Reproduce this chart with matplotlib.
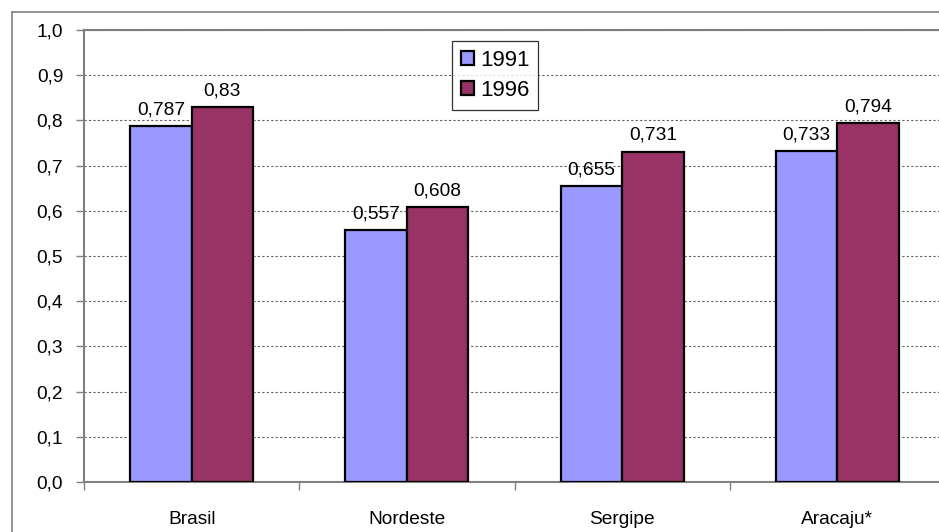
import matplotlib
matplotlib.use("Agg")
import matplotlib.pyplot as plt
from matplotlib.lines import Line2D
import numpy as np

plt.rcParams['font.family'] = ['Liberation Sans', 'DejaVu Sans']

categories = ["Brasil", "Nordeste", "Sergipe", "Aracaju*"]
series_names = ["1991", "1996"]
values_1991 = [0.787, 0.557, 0.655, 0.733]
values_1996 = [0.83, 0.608, 0.731, 0.794]
bar_colors = ["#9999FF", "#993366"]

W, H = 939, 532
fig = plt.figure(figsize=(W / 100, H / 100), dpi=100)

# plot area (extends slightly past the right edge of the canvas)
left_px, right_px, top_px, bottom_px = 84, 945, 30, 482
ax = fig.add_axes([left_px / W, 1 - bottom_px / H,
                   (right_px - left_px) / W, (bottom_px - top_px) / H])

x = np.arange(len(categories))
group = 1 / 1.75
bw = group / 2
FS = 13.8

def fmt(v):
    return ("%g" % v).replace(".", ",")

for i, (vals, name, col) in enumerate(zip([values_1991, values_1996], series_names, bar_colors)):
    pos = x - group / 2 + bw * (i + 0.5)
    bars = ax.bar(pos, vals, width=bw, color=col, edgecolor="black",
                  linewidth=1.6, label=name, zorder=3)
    for b, v in zip(bars, vals):
        ax.annotate(fmt(v), (b.get_x() + b.get_width() / 2, v),
                    xytext=(0, 5.5), textcoords="offset points",
                    ha="center", va="bottom", fontsize=FS, color="black", zorder=4)

ax.set_xlim(-0.5, len(categories) - 0.5)
ax.set_ylim(0, 1.0)

yt = np.round(np.arange(0, 1.01, 0.1), 1)
ax.set_yticks(yt)
ax.set_yticklabels([("%.1f" % v).replace(".", ",") for v in yt], fontsize=FS)
ax.tick_params(axis="y", direction="out", length=6, width=1, color="#808080", pad=9)

ax.set_xticks(np.arange(-0.5, len(categories), 1.0))
ax.set_xticklabels([])
ax.set_xticks(x, minor=True)
ax.set_xticklabels(categories, minor=True, fontsize=FS)
ax.tick_params(axis="x", which="major", direction="out", length=6, width=1, color="#808080")
ax.tick_params(axis="x", which="minor", length=0, pad=21)

ax.yaxis.grid(True, linestyle=(0, (2, 2)), color="#606060", linewidth=0.8, zorder=0)
ax.set_axisbelow(True)

for s in ["left", "bottom", "top"]:
    ax.spines[s].set_color("#808080")
    ax.spines[s].set_linewidth(1.5)
ax.spines["right"].set_visible(False)

leg = ax.legend(loc="upper left", bbox_to_anchor=((452 - left_px) / (right_px - left_px),
                                                  1 - (41 - top_px) / (bottom_px - top_px)),
                fontsize=16, frameon=True, fancybox=False, edgecolor="black",
                handlelength=0.6, handleheight=0.6, handletextpad=0.25,
                borderpad=0.4, labelspacing=0.4, borderaxespad=0)
leg.get_frame().set_linewidth(0.9)

# outer chart border
fig.add_artist(Line2D([12 / W, 12 / W], [1 - 12 / H, 0], transform=fig.transFigure,
                      color="#808080", linewidth=1.2))
fig.add_artist(Line2D([12 / W, 1], [1 - 12 / H, 1 - 12 / H], transform=fig.transFigure,
                      color="#808080", linewidth=1.2))

fig.savefig("out.png", dpi=100)
